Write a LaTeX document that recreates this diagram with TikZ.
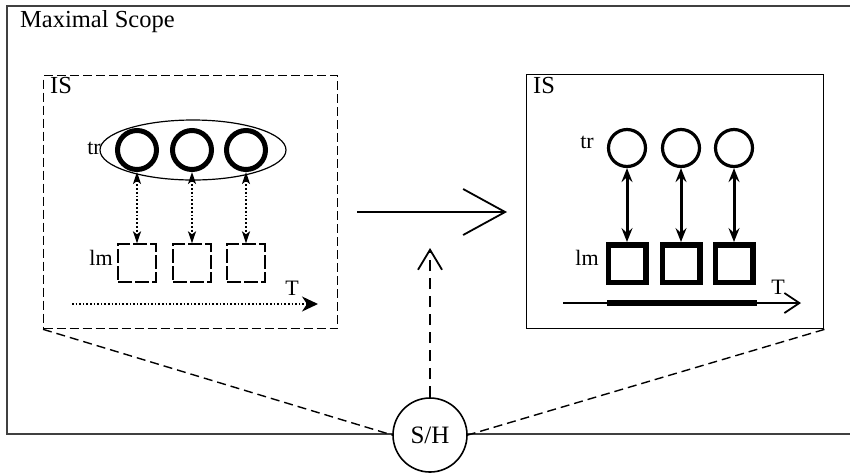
\documentclass[tikz,border=0pt]{standalone}
\usepackage{fontspec}
\setmainfont{Liberation Serif}
\usetikzlibrary{arrows.meta,shapes.geometric,positioning}

\begin{document}
\begin{tikzpicture}[x=1pt,y=-1pt,
    lbl/.style={font=\fontsize{24.5}{26}\selectfont, inner sep=0pt},
    small/.style={font=\fontsize{22}{24}\selectfont, inner sep=0pt},
    trL/.style={shape=circle, draw=black, line width=5pt, minimum size=39},
    lmL/.style={shape=rectangle, draw=black, line width=1.3pt, dash pattern=on 14pt off 3pt, minimum size=38},
    trR/.style={shape=circle, draw=black, line width=3.2pt, minimum size=37},
    lmR/.style={shape=rectangle, draw=black, line width=5.5pt, minimum size=37.5}]
    \useasboundingbox (0,0) rectangle (850,475);

    % Maximal scope frame, open on the right
    \draw[line width=1.8pt, black!75] (850,6) -- (7,6) -- (7,434) -- (850,434);
    \node[lbl, anchor=base west] (scope) at (20,27) {Maximal Scope};

    % Left information state
    \node[draw, line width=1.3pt, dash pattern=on 9pt off 4pt, minimum width=294, minimum height=253, anchor=north west, inner sep=0] (isL) at (43,75) {};
    \node[lbl, anchor=base west] (isLtext) at (50,93) {IS};
    \node[draw, ellipse, line width=1.2pt, minimum width=186, minimum height=60] (trset) at (193,150) {};
    \foreach \i/\x in {1/137,2/192,3/246} {
        \node[trL] (trL\i) at (\x,150) {};
        \node[lmL] (lmL\i) at (\x,263) {};
        \draw[dotted, line width=1.8pt, {Stealth[length=12pt,width=8pt,inset=3pt]}-{Stealth[length=12pt,width=8pt,inset=3pt]}] (trL\i) -- (lmL\i);
    }
    \node[small] (trLtext) at (94,148) {tr};
    \node[small] (lmLtext) at (101,258) {lm};
    \coordinate (tL0) at (72,304);
    \coordinate (tL1) at (318,304);
    \draw[dotted, line width=1.6pt, -{Stealth[length=16pt,width=15pt,inset=5pt]}] (tL0) -- (tL1);
    \node[small] (tLtext) at (292,288) {T};

    % Right information state
    \node[draw, line width=1.4pt, minimum width=297, minimum height=254, anchor=north west, inner sep=0] (isR) at (526,74) {};
    \node[lbl, anchor=base west] (isRtext) at (533,93) {IS};
    \foreach \i/\x in {1/627,2/681,3/734} {
        \node[trR] (trR\i) at (\x,148) {};
        \node[lmR] (lmR\i) at (\x,263.5) {};
        \draw[line width=3pt, {Stealth[length=14pt,width=11pt,inset=5pt]}-{Stealth[length=14pt,width=11pt,inset=5pt]}] (trR\i) -- (lmR\i);
    }
    \node[small] (trRtext) at (587,142) {tr};
    \node[small] (lmRtext) at (587,258) {lm};
    \coordinate (tR0) at (563,303);
    \coordinate (tR1) at (801,303);
    \coordinate (barR0) at (607,303);
    \coordinate (barR1) at (757,303);
    \draw[line width=1.8pt, -{Straight Barb[length=15pt,width=20pt]}] (tR0) -- (tR1);
    \draw[line width=6.5pt] (barR0) -- (barR1);
    \node[small] (tRtext) at (778,287) {T};

    % Update arrow
    \coordinate (upd0) at (357,212);
    \coordinate (upd1) at (507,212);
    \draw[line width=1.8pt, -{Straight Barb[length=42pt,width=46pt]}] (upd0) -- (upd1);

    % Speaker / hearer
    \node[draw, circle, fill=white, line width=1.6pt, minimum size=74, font=\fontsize{25}{27}\selectfont, inner sep=0pt] (sh) at (430,435) {S/H};
    \coordinate (shup) at (430,248);
    \draw[line width=1.8pt, dash pattern=on 11pt off 7pt, -{Straight Barb[length=20pt,width=24pt]}] (sh) -- (shup);
    \draw[line width=1.4pt, dash pattern=on 9pt off 5pt] (isL.south west) -- (sh.west);
    \draw[line width=1.4pt, dash pattern=on 9pt off 5pt] (isR.south east) -- (sh.east);
\end{tikzpicture}
\end{document}
